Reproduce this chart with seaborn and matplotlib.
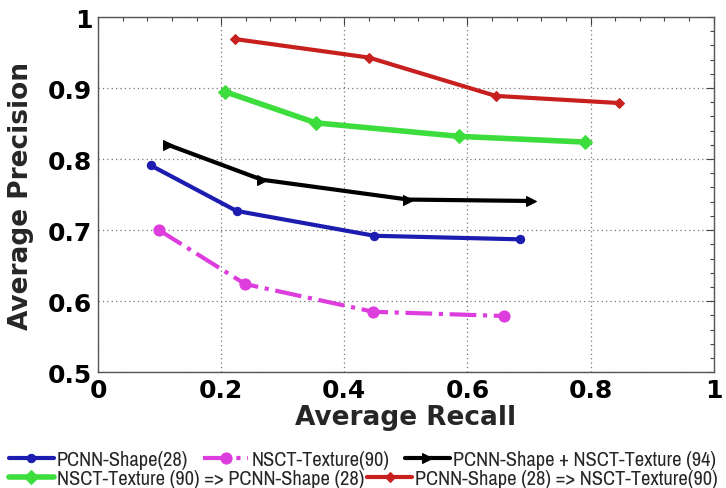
import matplotlib
matplotlib.use("Agg")
import matplotlib.pyplot as plt
import matplotlib.font_manager as fm
from matplotlib.ticker import MultipleLocator
import seaborn as sns
import pandas as pd

# ---- data ----
labels = ["PCNN-Shape(28)", "NSCT-Texture(90)", "PCNN-Shape + NSCT-Texture (94)",
          "NSCT-Texture (90) => PCNN-Shape (28)", "PCNN-Shape (28) => NSCT-Texture(90)"]
blue_x = [0.086, 0.225, 0.449, 0.685]
blue_y = [0.791, 0.727, 0.692, 0.687]
mag_x = [0.099, 0.239, 0.447, 0.660]
mag_y = [0.700, 0.624, 0.585, 0.579]
black_x = [0.114, 0.266, 0.504, 0.704]
black_y = [0.820, 0.771, 0.743, 0.741]
green_x = [0.206, 0.354, 0.587, 0.791]
green_y = [0.895, 0.851, 0.832, 0.824]
red_x = [0.223, 0.440, 0.646, 0.846]
red_y = [0.969, 0.943, 0.889, 0.879]
x_ticks = [0, 0.2, 0.4, 0.6, 0.8, 1]
x_tick_labels = ["0", "0.2", "0.4", "0.6", "0.8", "1"]
y_ticks = [0.5, 0.6, 0.7, 0.8, 0.9, 1]
y_tick_labels = ["0.5", "0.6", "0.7", "0.8", "0.9", "1"]

sns.set_theme(style="white")
names = {f.name for f in fm.fontManager.ttflist}
narrow = [n for n in sorted(names) if ("Narrow" in n or "Condensed" in n)]
legend_font = narrow[0] if narrow else "Liberation Sans"
legend_size = 14.7 if narrow else 12.8
plt.rcParams["font.family"] = ["DejaVu Sans"]

fig = plt.figure(figsize=(7.26, 4.89), dpi=100)
ax = fig.add_axes([0.135, 0.237, 0.848, 0.726])

series = [
    (blue_x, blue_y, "#1c1cb0", "o", "-", 6, 3.0),
    (mag_x, mag_y, "#dd3ddd", "o", "-.", 8, 3.0),
    (black_x, black_y, "#000000", ">", "-", 7.5, 3.0),
    (green_x, green_y, "#3ddd3d", "D", "-", 7.5, 4.0),
    (red_x, red_y, "#c8201e", "D", "-", 5.5, 3.0),
]
handles = []
for (xs, ys, col, mk, ls, ms, lw), lab in zip(series, labels):
    df = pd.DataFrame({"Recall": xs, "Precision": ys})
    sns.lineplot(data=df, x="Recall", y="Precision", ax=ax, color=col, marker=mk,
                 markersize=ms, markeredgecolor=col, linewidth=lw, linestyle=ls,
                 sort=False, label=lab, legend=False)
    handles.append(ax.lines[-1])

ax.set_xlim(0, 1)
ax.set_ylim(0.5, 1)
ax.set_xticks(x_ticks)
ax.set_xticklabels(x_tick_labels)
ax.set_yticks(y_ticks)
ax.set_yticklabels(y_tick_labels)
ax.xaxis.set_minor_locator(MultipleLocator(0.04))
ax.yaxis.set_minor_locator(MultipleLocator(0.02))
ax.tick_params(which="both", direction="in", top=True, right=True, colors="#444444",
               labelcolor="black")
ax.tick_params(which="major", length=6, width=0.8, labelsize=18, pad=4)
ax.tick_params(which="minor", length=3, width=0.8)
for lbl in ax.get_xticklabels() + ax.get_yticklabels():
    lbl.set_fontweight("bold")
ax.grid(True, which="major", linestyle=(0, (1, 2.5)), color="#777777", linewidth=0.9)
for s in ax.spines.values():
    s.set_color("#555555")
    s.set_linewidth(1.0)

ax.set_xlabel("Average Recall", fontsize=19, fontweight="bold", labelpad=2)
ax.set_ylabel("Average Precision", fontsize=19, fontweight="bold", labelpad=10)

leg_kw = dict(frameon=False, handlelength=2.2, handletextpad=0.15,
              borderpad=0, borderaxespad=0,
              prop={"family": [legend_font, "DejaVu Sans"], "size": legend_size})
l1 = fig.legend(handles[:3], labels[:3], ncol=3, loc="center left", columnspacing=0.75,
                bbox_to_anchor=(0.012, 1 - 461 / 489), **leg_kw)
l2 = fig.legend(handles[3:], labels[3:], ncol=2, loc="center left", columnspacing=0.15,
                bbox_to_anchor=(0.012, 1 - 480 / 489), **leg_kw)

fig.savefig("out.png", dpi=100)
